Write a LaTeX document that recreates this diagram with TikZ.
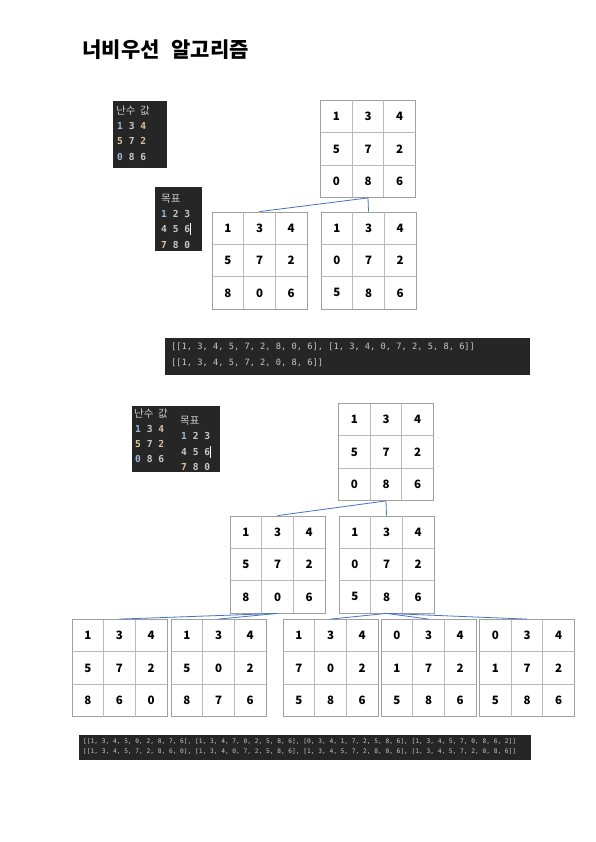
\documentclass[tikz,border=0pt]{standalone}
\usepackage{fontspec}
\setmainfont{Noto Sans CJK KR}
\newfontfamily\codefont{DejaVu Sans Mono}
\usetikzlibrary{calc}

\definecolor{codebg}{HTML}{262626}
\definecolor{codetext}{HTML}{C8C8C8}
\definecolor{numblue}{HTML}{9CB8DC}
\definecolor{numtan}{HTML}{D8C49C}
\definecolor{linkblue}{HTML}{4472C4}

\tikzset{
  board/.style={draw=gray!75, line width=0.8pt, minimum width=95pt, minimum height=97pt, inner sep=0pt},
  cellline/.style={draw=gray!55, line width=0.7pt},
  cell/.style={font=\bfseries\fontsize{11.5}{13}\selectfont, inner sep=0pt},
  link/.style={draw=linkblue, line width=0.8pt},
  codebox/.style={fill=codebg, draw=none},
  codeline/.style={anchor=west, inner sep=0pt, text=codetext, font=\codefont\fontsize{8.7}{10}\selectfont},
  smallcode/.style={anchor=west, inner sep=0pt, text=codetext, font=\codefont\fontsize{6.2}{7}\selectfont},
  snaplabel/.style={anchor=west, inner sep=0pt, text=codetext, font=\fontsize{10.5}{12}\selectfont},
  snaprow/.style={anchor=west, inner sep=0pt, text=codetext, font=\codefont\bfseries\fontsize{9.6}{11}\selectfont}
}

% one 3x3 board: name, centre x, centre y, nine entries
\newcommand{\board}[4]{%
  \node[board] (#1) at (#2,#3) {};
  \foreach \k in {-1,1}{
    \draw[cellline] (#2+\k*15.83,#3-48.5) -- (#2+\k*15.83,#3+48.5);
    \draw[cellline] (#2-47.5,#3+\k*16.17) -- (#2+47.5,#3+\k*16.17);
  }
  \foreach \v [count=\i from 0] in {#4}{
    \pgfmathtruncatemacro{\cc}{mod(\i,3)}
    \pgfmathtruncatemacro{\rr}{div(\i,3)}
    \node[cell] (#1-\i) at (#2+\cc*31.67-31.67,#3+\rr*32.33-32.33) {\v};
  }
}

\newcommand{\nb}[1]{\textcolor{numblue}{#1}}
\newcommand{\nt}[1]{\textcolor{numtan}{#1}}

\begin{document}
\begin{tikzpicture}[x=1pt,y=-1pt]
\useasboundingbox[fill=white] (0,0) rectangle (595,842);

\node[anchor=west, font=\bfseries\fontsize{21}{25}\selectfont] (title) at (79,50) {너비우선\hspace{0.55em}알고리즘};

% first run: start / goal snapshots
\fill[codebg] (113,101) rectangle (167,168);
\node[snaplabel] (start1) at (116,111) {난수\hspace{0.45em}값};
\node[snaprow] (start1a) at (117,126) {\nb{1} 3 \nt{4}};
\node[snaprow] (start1b) at (117,141) {\nt{5} 7 \nt{2}};
\node[snaprow] (start1c) at (117,157) {\nb{0} 8 6};

\fill[codebg] (155,187) rectangle (202,251);
\node[snaplabel] (goal1) at (161,199) {목표};
\node[snaprow] (goal1a) at (161,214) {\nb{1} 2 3};
\node[snaprow] (goal1b) at (161,229) {4 5 6};
\draw[white, line width=0.6pt] (190,223) -- (190,235);
\node[snaprow] (goal1c) at (161,245) {\nt{7} 8 0};

\board{root1}{368}{149}{1,3,4,5,7,2,0,8,6}
\board{left1}{259.5}{260.5}{1,3,4,5,7,2,8,0,6}
\board{right1}{368.5}{260.5}{1,3,4,0,7,2,5,8,6}
\draw[link] (root1.south) -- (left1.north);
\draw[link] (root1.south) -- (right1.north);

\fill[codebg] (165,338) rectangle (530,375);
\node[codeline] (out1a) at (171,347) {[[1, 3, 4, 5, 7, 2, 8, 0, 6], [1, 3, 4, 0, 7, 2, 5, 8, 6]]};
\node[codeline] (out1b) at (171,363) {[[1, 3, 4, 5, 7, 2, 0, 8, 6]]};

% second run
\fill[codebg] (132,406) rectangle (220,472);
\node[snaplabel] (start2) at (134,414) {난수\hspace{0.45em}값};
\node[snaprow] (start2a) at (135,429) {\nb{1} 3 \nt{4}};
\node[snaprow] (start2b) at (135,444) {\nt{5} 7 \nt{2}};
\node[snaprow] (start2c) at (135,459) {\nb{0} 8 6};
\node[snaplabel] (goal2) at (180,421) {목표};
\node[snaprow] (goal2a) at (181,436) {\nb{1} 2 3};
\node[snaprow] (goal2b) at (181,452) {4 5 6};
\draw[white, line width=0.6pt] (210,446) -- (210,458);
\node[snaprow] (goal2c) at (181,467) {\nt{7} 8 0};

\board{root2}{386}{452}{1,3,4,5,7,2,0,8,6}
\board{left2}{277.5}{564.5}{1,3,4,5,7,2,8,0,6}
\board{right2}{386.5}{564.5}{1,3,4,0,7,2,5,8,6}
\draw[link] (root2.south) -- (left2.north);
\draw[link] (root2.south) -- (right2.north);

\board{leaf1}{119.5}{668}{1,3,4,5,7,2,8,6,0}
\board{leaf2}{218.5}{668}{1,3,4,5,0,2,8,7,6}
\board{leaf3}{330.5}{668}{1,3,4,7,0,2,5,8,6}
\board{leaf4}{428.5}{668}{0,3,4,1,7,2,5,8,6}
\board{leaf5}{527}{668}{0,3,4,1,7,2,5,8,6}
\foreach \leaf in {leaf1,leaf2}
  \draw[link] (left2.south) -- (\leaf.north);
\foreach \leaf in {leaf3,leaf4,leaf5}
  \draw[link] (right2.south) -- (\leaf.north);

\fill[codebg] (79,735) rectangle (531,760);
\node[smallcode] (out2a) at (83,742) {[[1, 3, 4, 5, 0, 2, 8, 7, 6], [1, 3, 4, 7, 0, 2, 5, 8, 6], [0, 3, 4, 1, 7, 2, 5, 8, 6], [1, 3, 4, 5, 7, 0, 8, 6, 2]]};
\node[smallcode] (out2b) at (83,752) {[[1, 3, 4, 5, 7, 2, 8, 6, 0], [1, 3, 4, 0, 7, 2, 5, 8, 6], [1, 3, 4, 5, 7, 2, 8, 0, 6], [1, 3, 4, 5, 7, 2, 0, 8, 6]]};

\end{tikzpicture}
\end{document}
